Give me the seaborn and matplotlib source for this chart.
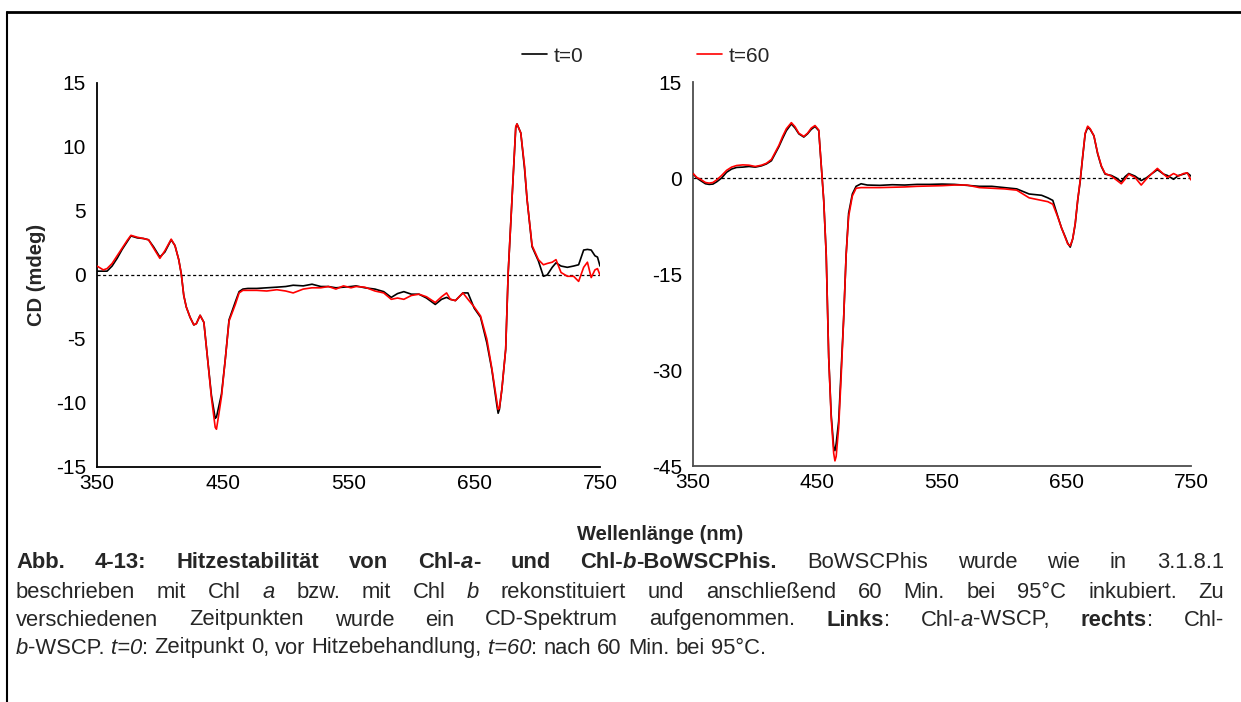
import numpy as np
import pandas as pd
import matplotlib
matplotlib.use("Agg")
import matplotlib.pyplot as plt
import seaborn as sns
from matplotlib.lines import Line2D

sns.set_style("white")
plt.rcParams['font.family'] = ['Liberation Sans', 'DejaVu Sans']
plt.rcParams['axes.unicode_minus'] = False

# ---------------- data ----------------
wl_a = [350, 355, 358, 362, 366, 370, 374, 377, 382, 387, 391, 395, 400, 404, 409, 412, 415, 417,
        419, 421, 424, 427, 429, 432, 435, 438, 441, 444, 445, 447, 449, 452, 455, 460, 463, 466,
        470, 477, 485, 493, 500, 506, 514, 521, 528, 534, 540, 546, 552, 556, 563, 571, 578, 584,
        589, 594, 600, 606, 612, 619, 624, 628, 631, 635, 641, 645, 650, 655, 660, 664, 668, 669,
        670, 672, 675, 677, 680, 683, 684, 687, 690, 692, 696, 701, 705, 708, 712, 715, 719, 724,
        729, 733, 737, 740, 743, 746, 748, 750]
a_t0 = [0.3, 0.3, 0.3, 0.7, 1.3, 2.0, 2.6, 3.05, 2.9, 2.85, 2.75, 2.2, 1.4, 1.8, 2.75, 2.3, 1.2, 0.1,
        -1.6, -2.5, -3.3, -3.9, -3.8, -3.15, -3.7, -6.6, -9.4, -11.2, -11.1, -10.2, -9.3, -6.6, -3.5, -2.1, -1.3, -1.1,
        -1.05, -1.05, -1.0, -0.95, -0.9, -0.8, -0.85, -0.72, -0.9, -0.9, -1.0, -0.95, -0.9, -0.85, -1.0, -1.1, -1.3, -1.75,
        -1.45, -1.3, -1.5, -1.5, -1.8, -2.3, -1.9, -1.75, -1.9, -2.0, -1.4, -1.4, -2.6, -3.3, -5.3, -7.4, -10.2, -10.8,
        -10.5, -8.9, -5.8, 0.2, 5.9, 11.5, 11.8, 11.1, 8.3, 5.9, 2.2, 1.1, -0.1, 0.0, 0.6, 0.95, 0.7, 0.6,
        0.7, 0.8, 1.95, 2.0, 1.95, 1.5, 1.4, 0.7]
a_t60 = [0.7, 0.4, 0.5, 0.9, 1.5, 2.1, 2.7, 3.1, 2.95, 2.85, 2.75, 2.1, 1.3, 1.9, 2.8, 2.3, 1.2, 0.1,
         -1.6, -2.5, -3.3, -3.9, -3.8, -3.15, -3.7, -6.6, -9.6, -11.9, -12.05, -10.8, -9.5, -6.6, -3.6, -2.3, -1.4, -1.2,
         -1.2, -1.2, -1.25, -1.15, -1.25, -1.4, -1.1, -1.0, -1.0, -0.9, -1.1, -0.85, -1.0, -0.9, -0.95, -1.25, -1.4, -1.9,
         -1.8, -1.9, -1.6, -1.5, -1.7, -2.15, -1.7, -1.4, -1.9, -2.0, -1.4, -1.9, -2.5, -3.2, -5.0, -7.3, -9.9, -10.5,
         -10.4, -8.9, -5.8, 0.2, 5.9, 11.6, 11.8, 11.1, 8.5, 5.9, 2.3, 1.2, 0.8, 0.9, 1.0, 1.2, 0.2, -0.1,
         -0.1, -0.5, 0.6, 1.0, -0.2, 0.4, 0.5, 0.0]

wl_b = [350, 353, 356, 360, 363, 366, 369, 373, 377, 381, 385, 390, 395, 400, 405, 409, 413, 416,
        419, 422, 425, 429, 432, 435, 439, 442, 445, 448, 451, 453, 455, 457, 459, 461, 463, 464,
        465, 467, 469, 471, 473, 475, 478, 481, 485, 490, 500, 510, 520, 530, 540, 550, 560, 570,
        580, 590, 600, 610, 615, 620, 625, 630, 635, 639, 643, 646, 649, 651, 653, 655, 657, 659,
        661, 663, 665, 667, 669, 672, 675, 678, 681, 686, 690, 694, 697, 700, 705, 710, 714, 718,
        723, 728, 731, 736, 740, 744, 747, 750]
b_t0 = [0.7, 0.0, -0.4, -0.9, -1.0, -0.95, -0.6, 0.0, 0.9, 1.4, 1.65, 1.7, 1.8, 1.7, 1.9, 2.2, 2.7, 3.8,
        4.9, 6.2, 7.4, 8.45, 7.8, 6.9, 6.4, 6.9, 7.6, 8.05, 7.4, 2.0, -3.5, -12.0, -28.0, -37.0, -42.0, -42.6,
        -41.5, -38.0, -30.0, -22.0, -12.0, -5.5, -2.5, -1.3, -0.9, -1.1, -1.15, -1.05, -1.1, -1.0, -1.0, -0.95, -1.0, -1.15,
        -1.3, -1.3, -1.5, -1.7, -2.1, -2.5, -2.6, -2.7, -3.1, -3.5, -6.0, -7.8, -9.2, -10.2, -10.8, -9.5, -7.2, -3.5,
        -0.5, 3.3, 6.9, 7.9, 7.6, 6.6, 3.8, 1.8, 0.6, 0.4, 0.0, -0.6, 0.2, 0.7, 0.3, -0.4, 0.0, 0.6,
        1.3, 0.6, 0.4, -0.2, 0.4, 0.6, 0.8, 0.3]
b_t60 = [0.7, 0.1, -0.2, -0.7, -0.8, -0.7, -0.3, 0.4, 1.2, 1.7, 1.95, 2.05, 2.0, 1.8, 2.0, 2.3, 2.9, 4.0,
         5.1, 6.5, 7.7, 8.65, 8.0, 7.0, 6.5, 7.0, 7.8, 8.2, 7.5, 2.0, -3.5, -12.0, -28.0, -37.5, -43.0, -44.2,
         -43.5, -39.0, -31.0, -22.0, -12.0, -6.0, -2.8, -1.6, -1.5, -1.5, -1.5, -1.45, -1.4, -1.3, -1.25, -1.2, -1.1, -1.1,
         -1.5, -1.6, -1.7, -1.9, -2.5, -3.1, -3.3, -3.5, -3.7, -4.1, -6.1, -7.8, -9.3, -10.3, -10.6, -9.5, -7.1, -3.4,
         -0.4, 3.4, 7.0, 8.1, 7.7, 6.6, 3.9, 1.9, 0.7, 0.3, -0.3, -0.9, -0.2, 0.6, 0.1, -1.1, -0.2, 0.6,
         1.5, 0.6, 0.1, 0.7, 0.3, 0.7, 0.8, -0.3]

x_ticks = [350, 450, 550, 650, 750]
y_ticks_a = [-15, -10, -5, 0, 5, 10, 15]
y_ticks_b = [-45, -30, -15, 0, 15]
series_labels = ["t=0", "t=60"]
series_colors = ["black", "red"]

x_label = "Wellenlänge (nm)"
y_label = "CD (mdeg)"

# ---------------- figure ----------------
W, H = 1241, 702
fig = plt.figure(figsize=(W / 100, H / 100), dpi=100)
fig.patch.set_facecolor("white")

def px_rect(x0, x1, ytop, ybot):
    return [x0 / W, 1 - ybot / H, (x1 - x0) / W, (ybot - ytop) / H]

ax1 = fig.add_axes(px_rect(97, 600, 83, 467))
ax2 = fig.add_axes(px_rect(693, 1191, 82, 466))

def panel(ax, wl, s0, s1, yticks, spine_col):
    df = pd.DataFrame({"wl": wl * 2, "cd": s0 + s1,
                       "t": [series_labels[0]] * len(wl) + [series_labels[1]] * len(wl)})
    ax.axhline(0, color="black", lw=0.9, ls=(0, (2.5, 2)), zorder=1)
    sns.lineplot(data=df, x="wl", y="cd", hue="t", palette=series_colors, ax=ax,
                 lw=1.2, legend=False, sort=False, estimator=None, zorder=3)
    ax.set_xlim(350, 750)
    ax.set_ylim(yticks[0], yticks[-1])
    ax.set_xticks(x_ticks)
    ax.set_yticks(yticks)
    ax.set_xlabel("")
    ax.set_ylabel("")
    for s in ["top", "right"]:
        ax.spines[s].set_visible(False)
    for s in ["left", "bottom"]:
        ax.spines[s].set_color(spine_col)
        ax.spines[s].set_linewidth(1.3)
    ax.tick_params(axis="both", direction="out", length=5, width=1.2, color=spine_col,
                   labelsize=15, labelcolor="black")
    ax.tick_params(axis="x", pad=0)
    ax.tick_params(axis="y", pad=3)
    ax.set_facecolor("white")

panel(ax1, wl_a, a_t0, a_t60, y_ticks_a, "black")
panel(ax2, wl_b, b_t0, b_t60, y_ticks_b, "#4d4d4d")

# legends
h0 = Line2D([], [], color=series_colors[0], lw=1.2)
h1 = Line2D([], [], color=series_colors[1], lw=1.2)
fig.legend([h0], [series_labels[0]], loc="center left", bbox_to_anchor=(522 / W, 1 - 56 / H),
           frameon=False, fontsize=15, handlelength=1.2, handletextpad=0.3, borderpad=0, borderaxespad=0)
fig.legend([h1], [series_labels[1]], loc="center left", bbox_to_anchor=(697 / W, 1 - 56 / H),
           frameon=False, fontsize=15, handlelength=1.2, handletextpad=0.3, borderpad=0, borderaxespad=0)

# axis labels
fig.text(36 / W, 1 - 275 / H, y_label, rotation=90, fontsize=14.5, fontweight="bold",
         ha="center", va="center")
fig.text(660 / W, 1 - 535 / H, x_label, fontsize=14.5, fontweight="bold", ha="center", va="center")

# frame lines
fig.add_artist(Line2D([7 / W, 1.0], [1 - 12 / H, 1 - 12 / H], color="black", lw=2, transform=fig.transFigure))
fig.add_artist(Line2D([7 / W, 7 / W], [1 - 12 / H, 0], color="black", lw=1.5, transform=fig.transFigure))

# caption (justified, mixed styles)
N, B, I, BI = ("normal", "normal"), ("bold", "normal"), ("normal", "italic"), ("bold", "italic")
caption = [
    [("Abb. 4-13: Hitzestabilität von Chl-", B), ("a", BI), ("- und Chl-", B), ("b", BI),
     ("-BoWSCPhis.", B), (" BoWSCPhis wurde wie in 3.1.8.1", N)],
    [("beschrieben mit Chl ", N), ("a", I), (" bzw. mit Chl ", N), ("b", I),
     (" rekonstituiert und anschließend 60 Min. bei 95°C inkubiert. Zu", N)],
    [("verschiedenen Zeitpunkten wurde ein CD-Spektrum aufgenommen. ", N), ("Links", B), (": Chl-", N),
     ("a", I), ("-WSCP, ", N), ("rechts", B), (": Chl-", N)],
    [("b", I), ("-WSCP. ", N), ("t=0", I), (": Zeitpunkt 0, vor Hitzebehandlung, ", N), ("t=60", I),
     (": nach 60 Min. bei 95°C.", N)],
]
cap_fs = 15.8
line_y = [563, 592, 620, 648]
x_start, x_end = 16, 1224
renderer = fig.canvas.get_renderer()

def words_of(line):
    words, cur = [], []
    for txt, st in line:
        parts = txt.split(" ")
        for k, p in enumerate(parts):
            if k > 0:
                if cur:
                    words.append(cur)
                cur = []
            if p:
                cur.append((p, st))
    if cur:
        words.append(cur)
    return words

_t1 = fig.text(0, 0, "a a", fontsize=cap_fs)
_t2 = fig.text(0, 0, "aa", fontsize=cap_fs)
space_w = _t1.get_window_extent(renderer).width - _t2.get_window_extent(renderer).width
_t1.remove()
_t2.remove()

for li, line in enumerate(caption):
    words = words_of(line)
    y = 1 - line_y[li] / H
    objs = []
    total = 0
    for w in words:
        wobjs = []
        for p, st in w:
            t = fig.text(0, y, p, fontsize=cap_fs, fontweight=st[0], fontstyle=st[1],
                         ha="left", va="center")
            bb = t.get_window_extent(renderer)
            wobjs.append((t, bb.width))
            total += bb.width
        objs.append(wobjs)
    if li < len(caption) - 1:
        gap = (x_end - x_start - total) / max(len(words) - 1, 1)
    else:
        gap = space_w
    x = x_start
    for wobjs in objs:
        for t, wdt in wobjs:
            t.set_x(x / W)
            x += wdt
        x += gap

fig.savefig("out.png", dpi=100, facecolor="white")
